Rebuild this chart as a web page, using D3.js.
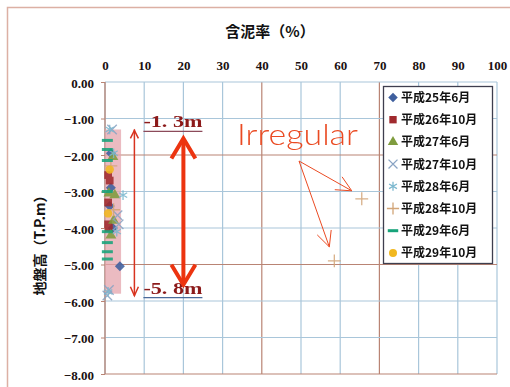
<!DOCTYPE html>
<html>
<head>
<meta charset="utf-8">
<script src="https://cdn.jsdelivr.net/npm/d3@7"></script>
<style>
  html, body { margin: 0; padding: 0; background: #fff; }
  svg { display: block; }
  .tick-label { font-family: "Liberation Serif", "DejaVu Serif", serif; font-weight: bold; font-size: 13px; fill: #1a1010; }
  .cjk { font-family: "Noto Sans CJK JP", sans-serif; font-weight: bold; fill: #111; }
</style>
</head>
<body>
<svg id="chart" width="510" height="387"></svg>
<script>
// Axis ticks
const xTicks = [0, 10, 20, 30, 40, 50, 60, 70, 80, 90, 100];
const yTicks = [0, -1, -2, -3, -4, -5, -6, -7, -8];
// Grid lines drawn in the darker tone
const xAccentTicks = [40, 70];
const yAccentTicks = [-2, -5, -8];

// Survey series: mud content (%) and ground level (T.P.m)
const seriesNames = ["平成25年6月", "平成26年10月", "平成27年6月", "平成27年10月",
                     "平成28年6月", "平成28年10月", "平成29年6月", "平成29年10月"];
const s25_6  = [[1.5, -1.95], [1.5, -2.9], [1.2, -3.4], [2.0, -4.0], [3.8, -5.05]];
const s26_10 = [[0.8, -2.55], [1.2, -2.7], [0.8, -3.3], [0.8, -3.9], [1.0, -4.0]];
const s27_6  = [[2.0, -2.05], [1.0, -3.05], [2.5, -3.1], [2.2, -3.8], [1.5, -4.2]];
const s27_10 = [[1.8, -1.3], [3.2, -3.65], [3.5, -3.9], [1.0, -5.7], [0.6, -5.85]];
const s28_6  = [[1.2, -1.3], [2.2, -1.95], [4.6, -3.1], [3.0, -4.1], [0.8, -5.75]];
const s28_10 = [[1.5, -2.3], [2.2, -3.5], [65.5, -3.2], [58.5, -4.9]];
const s29_6  = [[0.6, -1.6], [0.6, -1.85], [0.6, -2.15], [0.6, -3.0], [0.6, -4.1], [0.6, -4.4], [0.6, -4.65], [0.6, -4.85]];
const s29_10 = [[1.2, -2.4], [0.8, -3.6]];
const seriesData = [s25_6, s26_10, s27_6, s27_10, s28_6, s28_10, s29_6, s29_10];

// Layer of interest and its bounds
const layerTop = -1.3;
const layerBottom = -5.8;
const layerLabels = ["-1. 3m", "-5. 8m"];

const svg = d3.select("#chart");
const x = d3.scaleLinear().domain([0, 100]).range([105, 497]);
const y = d3.scaleLinear().domain([0, -8]).range([82, 374]);

// Outer chart frame
svg.append("rect").attr("x", 7.5).attr("y", 7.5).attr("width", 520).attr("height", 400)
  .attr("fill", "#fff").attr("stroke", "#dcb0a4").attr("stroke-width", 1.5);

const blue = "#a9c6da", brown = "#b98474";

// Grid
const grid = svg.append("g");
grid.selectAll("line.v").data(xTicks).join("line")
  .attr("x1", d => x(d)).attr("x2", d => x(d)).attr("y1", y(0)).attr("y2", y(-8))
  .attr("stroke", d => xAccentTicks.includes(d) ? brown : blue).attr("stroke-width", 1.2);
grid.selectAll("line.h").data(yTicks).join("line")
  .attr("y1", d => y(d)).attr("y2", d => y(d)).attr("x1", x(0)).attr("x2", x(100))
  .attr("stroke", d => yAccentTicks.includes(d) ? brown : blue).attr("stroke-width", 1.2);
// Left axis line
svg.append("line").attr("x1", x(0)).attr("x2", x(0)).attr("y1", y(0)).attr("y2", y(-8))
  .attr("stroke", brown).attr("stroke-width", 1.3);

// Axes (labels only, lines handled above)
const xAxis = svg.append("g").attr("transform", `translate(0,${y(0)})`)
  .call(d3.axisTop(x).tickValues(xTicks).tickSize(0).tickPadding(12).tickFormat(d3.format("d")));
xAxis.select(".domain").remove();
xAxis.selectAll("text").attr("class", "tick-label");

const yAxis = svg.append("g").attr("transform", `translate(${x(0)},0)`)
  .call(d3.axisLeft(y).tickValues(yTicks).tickSize(4).tickPadding(7).tickFormat(d3.format(".2f")));
yAxis.select(".domain").remove();
yAxis.selectAll("line").attr("stroke", brown);
yAxis.selectAll("text").attr("class", "tick-label").attr("dy", "0.4em");

// Titles
svg.append("text").attr("class", "cjk").attr("x", 270).attr("y", 37)
  .attr("text-anchor", "middle").attr("font-size", 15).text("含泥率（%）");
svg.append("text").attr("class", "cjk").attr("font-size", 14)
  .attr("transform", "translate(45,242) rotate(-90)").attr("text-anchor", "middle").text("地盤高（T.P.m）");

// Layer band
svg.append("rect").attr("x", x(0)).attr("width", x(4.1) - x(0))
  .attr("y", y(layerTop)).attr("height", y(layerBottom) - y(layerTop))
  .attr("fill", "#e4a4ac").attr("opacity", 0.75);

// Markers
const colors = ["#3f5f9e", "#a02a2e", "#7f9c3e", "#8aa4c4", "#7cb8cf", "#d2a578", "#17a37a", "#f1b820"];
function dashPath(s) { return `M${-s},-1.5H${s}V1.5H${-s}Z`; }
function rhombusPath(r) { return `M0,${-r}L${r},0L0,${r}L${-r},0Z`; }
const symbolDefs = [
  { type: "rhombus", size: 5, fill: true },
  { type: d3.symbolSquare, size: 60, fill: true },
  { type: d3.symbolTriangle, size: 52, fill: true },
  { type: d3.symbolX, size: 60, fill: false },
  { type: d3.symbolAsterisk, size: 64, fill: false },
  { type: d3.symbolPlus, size: 56, fill: false },
  { type: "dash", size: 5.5, fill: true },
  { type: d3.symbolCircle, size: 56, fill: true }
];
function markerPath(i, scale = 1) {
  const def = symbolDefs[i];
  if (def.type === "dash") return dashPath(def.size * scale);
  if (def.type === "rhombus") return rhombusPath(def.size * scale);
  return d3.symbol().type(def.type).size(def.size * scale * scale)();
}
function styleMarker(sel, i) {
  const def = symbolDefs[i];
  if (def.fill) sel.attr("fill", colors[i]).attr("stroke", "none");
  else sel.attr("fill", "none").attr("stroke", colors[i]).attr("stroke-width", 1.3);
}
seriesData.forEach((data, i) => {
  const g = svg.append("g").attr("opacity", 0.88);
  g.selectAll("path").data(data).join("path")
    .attr("transform", d => `translate(${x(d[0])},${y(d[1])})`)
    .attr("d", markerPath(i))
    .call(styleMarker, i);
});

// Thin double arrow spanning the layer
const red = "#d8331f";
const thinX = x(7.5);
svg.append("line").attr("x1", thinX).attr("x2", thinX).attr("y1", y(layerTop)).attr("y2", y(layerBottom) + 2)
  .attr("stroke", red).attr("stroke-width", 1.5);
svg.append("path").attr("d", `M${thinX - 4},${y(layerTop) + 9}L${thinX},${y(layerTop) + 1}L${thinX + 4},${y(layerTop) + 9}`)
  .attr("fill", "none").attr("stroke", red).attr("stroke-width", 1.5);
svg.append("path").attr("d", `M${thinX - 4},${y(layerBottom) - 7}L${thinX},${y(layerBottom) + 2}L${thinX + 4},${y(layerBottom) - 7}`)
  .attr("fill", "none").attr("stroke", red).attr("stroke-width", 1.5);

// Layer depth labels
[layerTop, layerBottom].forEach((v, k) => {
  const tx = x(9.8), ty = y(v) + (k === 0 ? -2 : 0);
  svg.append("text").attr("x", tx).attr("y", ty)
    .attr("font-family", "Liberation Serif, serif").attr("font-size", 17).attr("font-weight", "bold")
    .attr("fill", "#8c1a1a").attr("textLength", 59).attr("lengthAdjust", "spacingAndGlyphs")
    .text(layerLabels[k]);
  svg.append("line").attr("x1", tx).attr("x2", tx + 59).attr("y1", ty + 4).attr("y2", ty + 4)
    .attr("stroke", k === 0 ? "#8c4a5a" : "#4a6a9a").attr("stroke-width", 1.2);
});

// Thick double arrow
const bigX = x(20);
const bigRed = "#ec3410";
const topTip = y(layerTop) + 9, botTip = y(layerBottom) - 9;
svg.append("line").attr("x1", bigX).attr("x2", bigX).attr("y1", topTip + 2).attr("y2", botTip - 2)
  .attr("stroke", bigRed).attr("stroke-width", 4);
svg.append("path").attr("d", `M${bigX - 12},${topTip + 20}L${bigX},${topTip}L${bigX + 12},${topTip + 20}`)
  .attr("fill", "none").attr("stroke", bigRed).attr("stroke-width", 4).attr("stroke-linejoin", "miter");
svg.append("path").attr("d", `M${bigX - 12},${botTip - 20}L${bigX},${botTip}L${bigX + 12},${botTip - 20}`)
  .attr("fill", "none").attr("stroke", bigRed).attr("stroke-width", 4).attr("stroke-linejoin", "miter");

// "Irregular" callout pointing at the outliers
const orange = "#ea4a22";
svg.append("text").attr("x", 237).attr("y", 145)
  .attr("font-family", "Lato, sans-serif").attr("font-size", 29).attr("font-weight", 300)
  .attr("fill", orange).attr("textLength", 121).attr("lengthAdjust", "spacingAndGlyphs").text("Irregular");
const origin = [299, 161];
const outliers = s28_10.filter(d => d[0] > 20);
const tips = [[x(outliers[0][0]) - 10, y(outliers[0][1]) - 8], [x(outliers[1][0]) - 5, y(outliers[1][1]) - 14]];
tips.forEach(t => {
  const ang = Math.atan2(t[1] - origin[1], t[0] - origin[0]);
  const L = 17, spread = 0.45;
  const a1 = [t[0] - L * Math.cos(ang - spread), t[1] - L * Math.sin(ang - spread)];
  const a2 = [t[0] - L * Math.cos(ang + spread), t[1] - L * Math.sin(ang + spread)];
  svg.append("path")
    .attr("d", `M${origin[0]},${origin[1]}L${t[0]},${t[1]}M${a1[0]},${a1[1]}L${t[0]},${t[1]}L${a2[0]},${a2[1]}`)
    .attr("fill", "none").attr("stroke", orange).attr("stroke-width", 1);
});

// Legend
const lg = svg.append("g");
lg.append("rect").attr("x", 383.5).attr("y", 86.5).attr("width", 109).attr("height", 177)
  .attr("fill", "#fff").attr("stroke", "#3e3e4e").attr("stroke-width", 1.3);
seriesNames.forEach((name, i) => {
  const cy = 97.5 + i * 22.2;
  lg.append("path").attr("transform", `translate(393,${cy})`).attr("d", markerPath(i, 0.95)).call(styleMarker, i);
  lg.append("text").attr("class", "cjk").attr("x", 401).attr("y", cy + 4.5)
    .attr("font-size", 12).text(name);
});
</script>
</body>
</html>
